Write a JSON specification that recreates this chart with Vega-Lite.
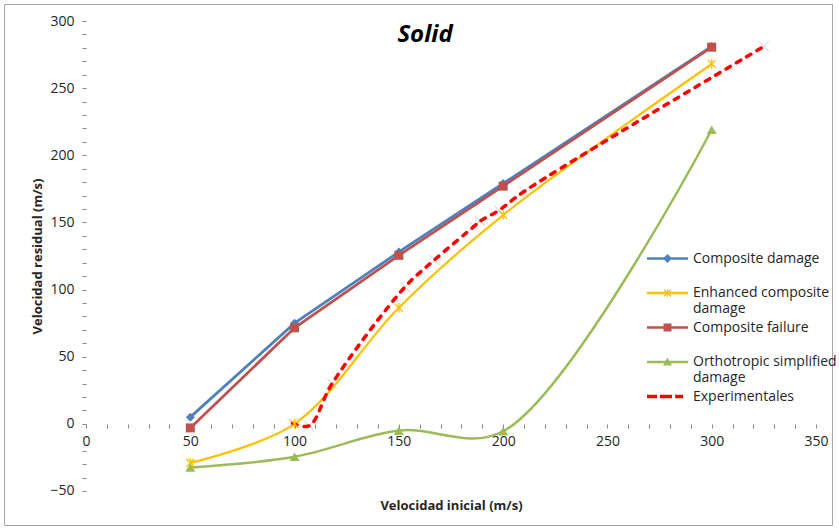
{
  "$schema": "https://vega.github.io/schema/vega-lite/v6.json",
  "autosize": {"type": "none"},
  "width": 828,
  "height": 521,
  "padding": {"left": 4, "top": 4, "right": 7, "bottom": 4},
  "background": "white",
  "config": {"view": {"stroke": "#a6a6a6", "strokeWidth": 1}, "font": "Open Sans"},
  "title": {"text": "Solid", "font": "Open Sans", "fontSize": 24, "fontWeight": "bold", "fontStyle": "italic", "color": "#000000", "anchor": "middle", "baseline": "alphabetic", "offset": 0, "dy": 62, "dx": 7},
  "datasets": {
    "d": [
      {"series": "Composite damage", "x": 50, "y": 5},
      {"series": "Composite damage", "x": 100, "y": 75},
      {"series": "Composite damage", "x": 150, "y": 128},
      {"series": "Composite damage", "x": 200, "y": 179},
      {"series": "Composite damage", "x": 300, "y": 281},
      {"series": "Enhanced composite damage", "x": 50, "y": -29},
      {"series": "Enhanced composite damage", "x": 100, "y": 0},
      {"series": "Enhanced composite damage", "x": 150, "y": 86.5},
      {"series": "Enhanced composite damage", "x": 200, "y": 155.5},
      {"series": "Enhanced composite damage", "x": 300, "y": 268},
      {"series": "Composite failure", "x": 50, "y": -3},
      {"series": "Composite failure", "x": 100, "y": 71.5},
      {"series": "Composite failure", "x": 150, "y": 125.5},
      {"series": "Composite failure", "x": 200, "y": 177},
      {"series": "Composite failure", "x": 300, "y": 280.5},
      {"series": "Orthotropic simplified damage", "x": 50, "y": -32.5},
      {"series": "Orthotropic simplified damage", "x": 100, "y": -24.5},
      {"series": "Orthotropic simplified damage", "x": 150, "y": -5},
      {"series": "Orthotropic simplified damage", "x": 200, "y": -5.5},
      {"series": "Orthotropic simplified damage", "x": 300, "y": 219},
      {"series": "Experimentales", "x": 99, "y": 0.5},
      {"series": "Experimentales", "x": 107, "y": -1.5},
      {"series": "Experimentales", "x": 118, "y": 30},
      {"series": "Experimentales", "x": 153, "y": 102},
      {"series": "Experimentales", "x": 167, "y": 122},
      {"series": "Experimentales", "x": 186, "y": 147},
      {"series": "Experimentales", "x": 189, "y": 151},
      {"series": "Experimentales", "x": 198, "y": 159},
      {"series": "Experimentales", "x": 210, "y": 173},
      {"series": "Experimentales", "x": 325, "y": 281}
    ]
  },
  "data": {"name": "d"},
  "encoding": {
    "x": {
      "field": "x", "type": "quantitative",
      "scale": {"domain": [-39.315, 357.67], "nice": false, "zero": false},
      "axis": {
        "orient": "bottom", "offset": -101, "domain": false, "grid": false,
        "values": [0,10,20,30,40,50,60,70,80,90,100,110,120,130,140,150,160,170,180,190,200,210,220,230,240,250,260,270,280,290,300,310,320,330,340,350],
        "labelExpr": "datum.value % 50 == 0 ? datum.label : ''",
        "labelOverlap": false,
        "tickSize": 4, "tickColor": "#868686", "tickWidth": 1,
        "labelFont": "Open Sans", "labelFontSize": 14, "labelColor": "#262626", "labelPadding": 6,
        "title": "Velocidad inicial (m/s)", "titleFont": "Open Sans", "titleFontSize": 13, "titleFontWeight": "bold", "titleColor": "#262626",
        "titleX": 447, "titleY": 81, "titleAnchor": "start", "titleAlign": "center", "titleBaseline": "middle"
      }
    },
    "y": {
      "field": "y", "type": "quantitative",
      "scale": {"domain": [-75.32, 312.66], "nice": false, "zero": false},
      "axis": {
        "orient": "left", "offset": -82, "domain": false, "grid": false,
        "values": [-50,-40,-30,-20,-10,0,10,20,30,40,50,60,70,80,90,100,110,120,130,140,150,160,170,180,190,200,210,220,230,240,250,260,270,280,290,300],
        "labelExpr": "datum.value % 50 == 0 ? datum.label : ''",
        "labelOverlap": false,
        "tickSize": 4, "tickColor": "#868686", "tickWidth": 1,
        "labelFont": "Open Sans", "labelFontSize": 14, "labelColor": "#262626", "labelPadding": 8,
        "title": "Velocidad residual (m/s)", "titleFont": "Open Sans", "titleFontSize": 13, "titleFontWeight": "bold", "titleColor": "#262626",
        "titleX": -49, "titleY": 252, "titleAngle": 270, "titleAlign": "center", "titleBaseline": "middle"
      }
    }
  },
  "layer": [
    {
      "data": {"values": [{}]},
      "mark": {"type": "rule", "color": "#868686", "strokeWidth": 1},
      "encoding": {"x": {"datum": 0}, "x2": {"datum": 350}, "y": {"datum": 0}}
    },
    {
      "data": {"values": [{}]},
      "mark": {"type": "rule", "color": "#868686", "strokeWidth": 1},
      "encoding": {"x": {"datum": 0}, "y": {"datum": -50}, "y2": {"datum": 300}}
    },
    {
      "transform": [{"filter": "datum.series == 'Composite damage'"}],
      "mark": {"type": "line", "color": "#4f81bd", "strokeWidth": 2.75}
    },
    {
      "transform": [{"filter": "datum.series == 'Enhanced composite damage'"}],
      "mark": {"type": "line", "color": "#ffc000", "strokeWidth": 2.25, "interpolate": "catmull-rom"}
    },
    {
      "transform": [{"filter": "datum.series == 'Composite failure'"}],
      "mark": {"type": "line", "color": "#c0504d", "strokeWidth": 2.75}
    },
    {
      "transform": [{"filter": "datum.series == 'Orthotropic simplified damage'"}],
      "mark": {"type": "line", "color": "#9bbb59", "strokeWidth": 2.5, "interpolate": "catmull-rom"}
    },
    {
      "transform": [{"filter": "datum.series == 'Experimentales'"}],
      "mark": {"type": "point", "filled": false, "color": "#c8c8dc", "strokeWidth": 1, "size": 100, "shape": "M-1,-1L1,1M-1,1L1,-1", "opacity": 1}
    },
    {
      "transform": [{"filter": "datum.series == 'Experimentales'"}],
      "mark": {"type": "line", "color": "#ff0000", "strokeWidth": 3.5, "strokeDash": [5, 7], "strokeCap": "round", "interpolate": "catmull-rom"}
    },
    {
      "transform": [{"filter": "datum.series == 'Composite damage'"}],
      "mark": {"type": "point", "shape": "diamond", "filled": true, "color": "#4f81bd", "size": 81, "opacity": 1}
    },
    {
      "transform": [{"filter": "datum.series == 'Enhanced composite damage'"}],
      "mark": {"type": "point", "shape": "M-1,-1L1,1M-1,1L1,-1M0,-1.2L0,1.2", "filled": false, "color": "#ffc000", "strokeWidth": 1.3, "size": 64, "opacity": 1}
    },
    {
      "transform": [{"filter": "datum.series == 'Composite failure'"}],
      "mark": {"type": "point", "shape": "square", "filled": true, "color": "#c0504d", "size": 81, "opacity": 1}
    },
    {
      "transform": [{"filter": "datum.series == 'Orthotropic simplified damage'"}],
      "mark": {"type": "point", "shape": "triangle-up", "filled": true, "color": "#9bbb59", "size": 100, "opacity": 1}
    },
    {
      "mark": {"type": "point", "filled": true, "opacity": 0},
      "encoding": {
        "color": {
          "field": "series", "type": "nominal",
          "scale": {
            "domain": ["Composite damage", "Enhanced composite damage", "Composite failure", "Orthotropic simplified damage", "Experimentales"],
            "range": ["#4f81bd", "#ffc000", "#c0504d", "#9bbb59", "#ff0000"]
          },
          "legend": {
            "title": null, "orient": "none", "legendX": 643, "legendY": 246,
            "symbolSize": 1681, "symbolStrokeWidth": 0, "symbolOpacity": 1, "clipHeight": 17,
            "labelFont": "Open Sans", "labelFontSize": 14, "labelColor": "#262626", "labelOffset": 5,
            "rowPadding": 2.5, "labelLimit": 400, "padding": 0,
            "labelExpr": "datum.label == 'Enhanced composite damage' ? ['Enhanced composite', 'damage'] : datum.label == 'Orthotropic simplified damage' ? ['Orthotropic simplified', 'damage'] : [datum.label, '']"
          }
        },
        "shape": {
          "field": "series", "type": "nominal",
          "scale": {
            "domain": ["Composite damage", "Enhanced composite damage", "Composite failure", "Orthotropic simplified damage", "Experimentales"],
            "range": [
              "M-1,-0.061H1V0.061H-1Z M0,-0.22L0.22,0L0,0.22L-0.22,0Z",
              "M-1,-0.061H1V0.061H-1Z M-0.025,-0.185H0.025V0.185H-0.025Z M-0.15,-0.19L0.19,0.15L0.15,0.19L-0.19,-0.15Z M0.15,-0.19L0.19,-0.15L-0.15,0.19L-0.19,0.15Z",
              "M-1,-0.061H1V0.061H-1Z M-0.195,-0.195H0.195V0.195H-0.195Z",
              "M-1,-0.061H1V0.061H-1Z M0,-0.22L0.22,0.17L-0.22,0.17Z",
              "M-1,-0.085H-0.51V0.085H-1Z M-0.37,-0.085H0.22V0.085H-0.37Z M0.37,-0.085H0.76V0.085H0.37Z"
            ]
          },
          "legend": {
            "title": null, "orient": "none", "legendX": 643, "legendY": 246,
            "symbolSize": 1681, "symbolStrokeWidth": 0, "symbolOpacity": 1, "clipHeight": 17,
            "labelFont": "Open Sans", "labelFontSize": 14, "labelColor": "#262626", "labelOffset": 5,
            "rowPadding": 2.5, "labelLimit": 400, "padding": 0,
            "labelExpr": "datum.label == 'Enhanced composite damage' ? ['Enhanced composite', 'damage'] : datum.label == 'Orthotropic simplified damage' ? ['Orthotropic simplified', 'damage'] : [datum.label, '']"
          }
        }
      }
    }
  ]
}
